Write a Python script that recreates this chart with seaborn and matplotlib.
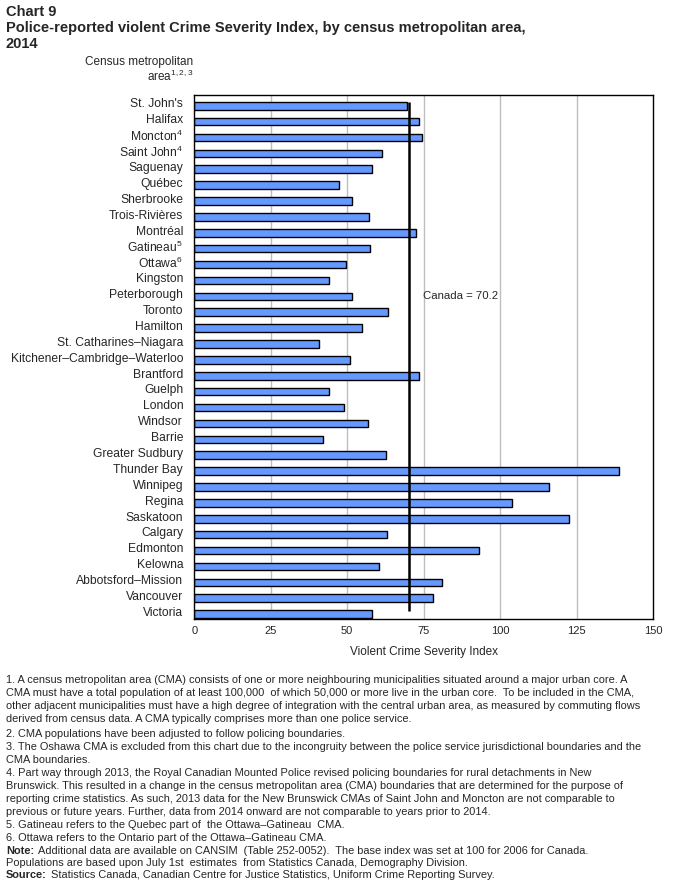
import matplotlib
matplotlib.use("Agg")
import matplotlib.pyplot as plt
import matplotlib.transforms as mtransforms
import seaborn as sns
import pandas as pd

# ---------------- data ----------------
cma = ["St. John's", "Halifax", "Moncton$^{\\mathrm{4}}$", "Saint John$^{\\mathrm{4}}$", "Saguenay",
       "Québec", "Sherbrooke", "Trois-Rivières", "Montréal", "Gatineau$^{\\mathrm{5}}$",
       "Ottawa$^{\\mathrm{6}}$", "Kingston", "Peterborough", "Toronto", "Hamilton",
       "St. Catharines–Niagara", "Kitchener–Cambridge–Waterloo", "Brantford", "Guelph",
       "London", "Windsor", "Barrie", "Greater Sudbury", "Thunder Bay", "Winnipeg",
       "Regina", "Saskatoon", "Calgary", "Edmonton", "Kelowna", "Abbotsford–Mission",
       "Vancouver", "Victoria"]
csi = [69.7, 73.4, 74.4, 61.4, 58.1,
       47.4, 51.6, 57.1, 72.4, 57.4,
       49.6, 44.1, 51.6, 63.4, 54.9,
       40.9, 50.9, 73.4, 44.1,
       49.1, 56.9, 42.1, 62.8, 138.8, 116.1,
       104.0, 122.6, 63.1, 93.2, 60.5, 81.0,
       78.1, 58.1]
canada_value = 70.2
x_ticks = [0, 25, 50, 75, 100, 125, 150]

title_lines = ["Chart 9",
               "Police-reported violent Crime Severity Index, by census metropolitan area,",
               "2014"]
y_axis_title = ["Census metropolitan", "area$^{\\mathrm{1,2,3}}$"]
x_axis_title = "Violent Crime Severity Index"
canada_label = "Canada = 70.2"

notes = [
    ("1. A census metropolitan area (CMA) consists of one or more neighbouring municipalities situated around a major urban core. A", None),
    ("CMA must have a total population of at least 100,000  of which 50,000 or more live in the urban core.  To be included in the CMA,", None),
    ("other adjacent municipalities must have a high degree of integration with the central urban area, as measured by commuting flows", None),
    ("derived from census data. A CMA typically comprises more than one police service.", None),
    ("2. CMA populations have been adjusted to follow policing boundaries.", None),
    ("3. The Oshawa CMA is excluded from this chart due to the incongruity between the police service jurisdictional boundaries and the", None),
    ("CMA boundaries.", None),
    ("4. Part way through 2013, the Royal Canadian Mounted Police revised policing boundaries for rural detachments in New", None),
    ("Brunswick. This resulted in a change in the census metropolitan area (CMA) boundaries that are determined for the purpose of", None),
    ("reporting crime statistics. As such, 2013 data for the New Brunswick CMAs of Saint John and Moncton are not comparable to", None),
    ("previous or future years. Further, data from 2014 onward are not comparable to years prior to 2014.", None),
    ("5. Gatineau refers to the Quebec part of  the Ottawa–Gatineau  CMA.", None),
    ("6. Ottawa refers to the Ontario part of the Ottawa–Gatineau CMA.", None),
    ("Additional data are available on CANSIM  (Table 252-0052).  The base index was set at 100 for 2006 for Canada.", "Note:"),
    ("Populations are based upon July 1st  estimates  from Statistics Canada, Demography Division.", None),
    ("Statistics Canada, Canadian Centre for Justice Statistics, Uniform Crime Reporting Survey.", "Source:"),
]
note_y = [680, 693, 706, 719, 734, 747, 760, 773, 786, 799, 812, 825, 838, 851, 863, 875]

df = pd.DataFrame({"cma": list(range(len(cma))), "csi": csi})

# ---------------- style ----------------
sns.set_style("white")
plt.rcParams["font.family"] = ["Liberation Sans", "DejaVu Sans"]
plt.rcParams["mathtext.fontset"] = "custom"
plt.rcParams["mathtext.rm"] = "Liberation Sans"
plt.rcParams["mathtext.it"] = "Liberation Sans:italic"
plt.rcParams["mathtext.bf"] = "Liberation Sans:bold"

W, H = 678, 884
fig = plt.figure(figsize=(W / 100, H / 100), dpi=100)
left, right, top, bottom = 194.3, 653, 95, 619.3
ax = fig.add_axes([left / W, 1 - bottom / H, (right - left) / W, (bottom - top) / H])

sns.barplot(data=df, x="csi", y="cma", orient="h", ax=ax, color="#6699FF",
            saturation=1, width=0.48, edgecolor="black", linewidth=1.0, native_scale=True)

ax.set_xlim(0, 150)
ax.set_ylim(32.327, -0.673)
ax.set_xticks(x_ticks)
ax.set_xticklabels([str(t) for t in x_ticks], fontsize=8)
ax.set_yticks(range(len(cma)))
ax.set_yticklabels(cma, fontsize=8.7)
ax.tick_params(axis="both", length=0, pad=5)
ax.tick_params(axis="y", pad=8)
offset = mtransforms.ScaledTranslation(0, 2.7 / 100, fig.dpi_scale_trans)
for lab in ax.get_yticklabels():
    lab.set_transform(lab.get_transform() + offset)
ax.set_xlabel(x_axis_title, fontsize=8.5, labelpad=7)
ax.set_ylabel("")

for v in x_ticks[1:-1]:
    ax.axvline(v, color="#BEBEBE", lw=1.0, zorder=0)
ax.vlines(canada_value, -0.24, 31.8, color="black", lw=1.8, zorder=5)
ax.text(74.8, 11.98, canada_label, fontsize=8.2, va="center", ha="left")

for s in ax.spines.values():
    s.set_visible(True)
    s.set_color("black")
    s.set_linewidth(1.0)

# ---------------- titles ----------------
for i, t in enumerate(title_lines):
    fig.text(6 / W, 1 - (12 + 16 * i) / H, t, fontsize=10.5, fontweight="bold", va="center", ha="left")
fig.text(193 / W, 1 - 62 / H, y_axis_title[0], fontsize=8.5, ha="right", va="center")
fig.text(193 / W, 1 - 76 / H, y_axis_title[1], fontsize=8.5, ha="right", va="center")

# ---------------- notes ----------------
nfs = 7.95
for (txt, lead), y in zip(notes, note_y):
    if lead is None:
        fig.text(6 / W, 1 - y / H, txt, fontsize=nfs, ha="left", va="center")
    else:
        t = fig.text(6 / W, 1 - y / H, lead, fontsize=nfs, fontweight="bold", ha="left", va="center")
        fig.canvas.draw()
        bb = t.get_window_extent()
        fig.text((bb.x1 + 4) / W, 1 - y / H, txt, fontsize=nfs, ha="left", va="center")

fig.savefig("out.png", dpi=100)
